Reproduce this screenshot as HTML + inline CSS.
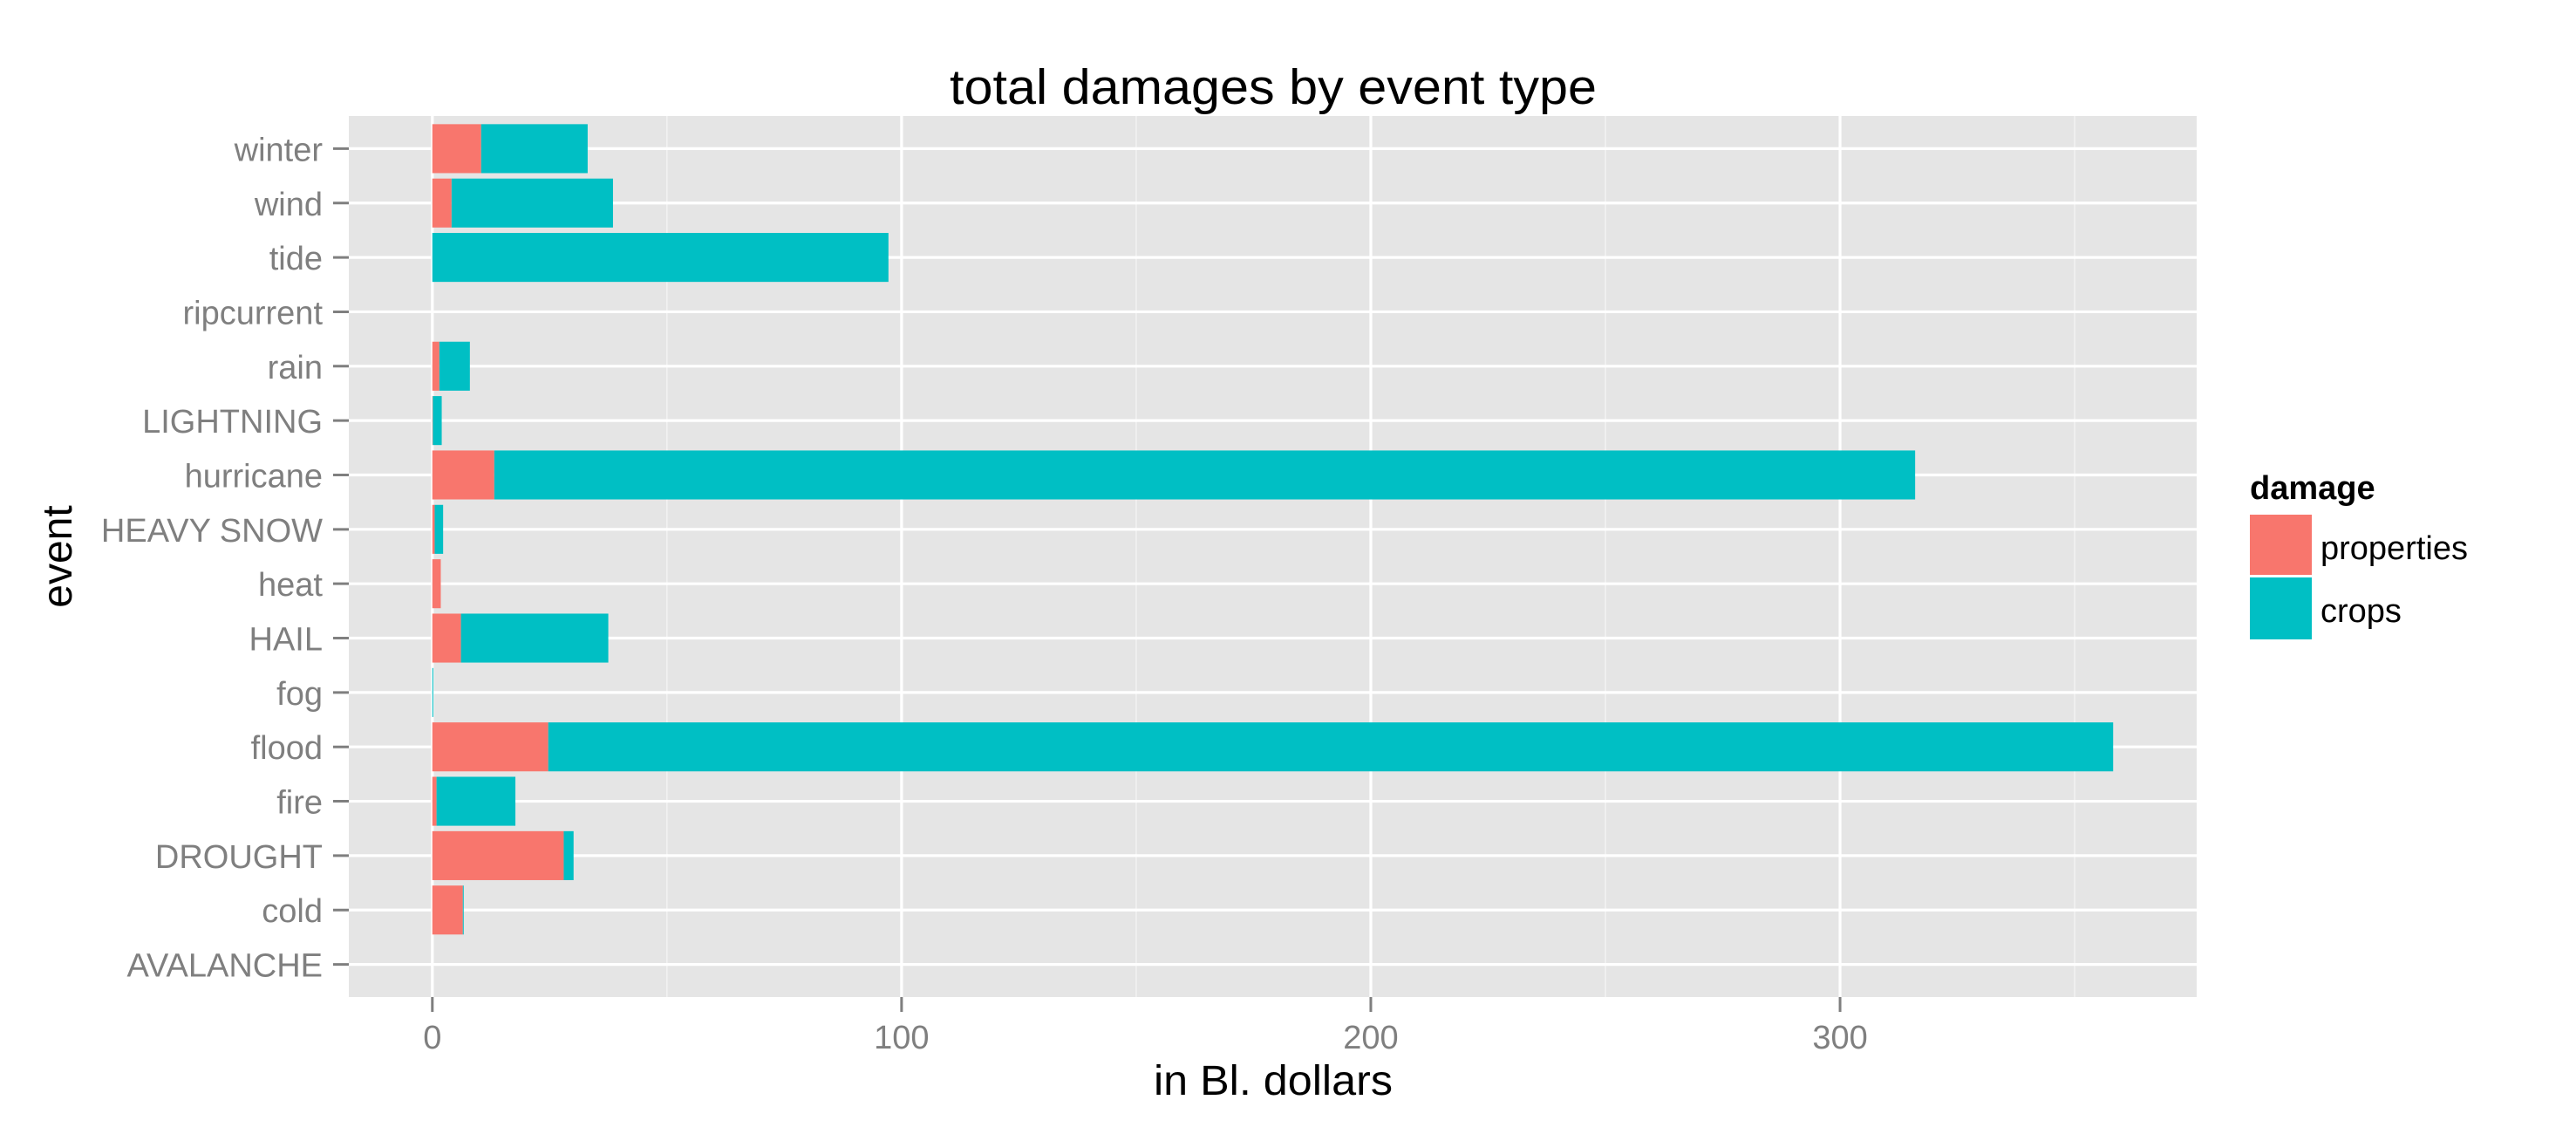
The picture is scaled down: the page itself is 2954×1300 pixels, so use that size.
<!DOCTYPE html>
<html><head><meta charset="utf-8"><style>
html,body{margin:0;padding:0;background:#fff}
svg{display:block}
text{font-family:"Liberation Sans",Arial,sans-serif}
</style></head><body>
<svg id="chart" width="2954" height="1300" viewBox="0 0 2954 1300" xmlns="http://www.w3.org/2000/svg">
<rect x="0" y="0" width="2954" height="1300" fill="#fff"/>
<text x="1460" y="119" font-size="57" text-anchor="middle" textLength="742" lengthAdjust="spacingAndGlyphs">total damages by event type</text>
<g id="plot"></g>
<text x="1460" y="1255" font-size="48" text-anchor="middle" textLength="274" lengthAdjust="spacingAndGlyphs">in Bl. dollars</text>
<text x="0" y="0" font-size="48" text-anchor="middle" transform="translate(82,638) rotate(-90)">event</text>
<g>
<text x="2580" y="572" font-size="38" font-weight="bold">damage</text>
<rect x="2580" y="590" width="71" height="69" fill="#F8766D"/>
<text x="2661" y="641" font-size="38">properties</text>
<rect x="2580" y="662" width="71" height="71" fill="#00BFC4"/>
<text x="2661" y="713" font-size="38">crops</text>
</g>
</svg>
<script>
const categories = ["AVALANCHE","cold","DROUGHT","fire","flood","fog","HAIL","heat","HEAVY SNOW","hurricane","LIGHTNING","rain","ripcurrent","tide","wind","winter"];
const properties = [0, 6.5, 28.0, 0.9, 24.7, 0, 6.1, 1.8, 0.5, 13.2, 0.1, 1.5, 0, 0, 4.1, 10.4];
const crops = [0, 0.1, 2.1, 16.8, 333.5, 0.2, 31.4, 0, 1.8, 302.8, 1.9, 6.5, 0, 97.2, 34.4, 22.7];
const xTicks = [0, 100, 200, 300];
const xMinor = [50, 150, 250, 350];

const NS = "http://www.w3.org/2000/svg";
const PL = 400, PR = 2519, PT = 133, PB = 1143;
const xMin = -17.8, xMax = 376;
const x = v => PL + (v - xMin) / (xMax - xMin) * (PR - PL);
const step = (PB - PT) / (categories.length - 1 + 1.2);
const y = i => PB - step * (i + 0.6);
const g = document.getElementById('plot');
function mk(tag, attrs, parent) {
  const e = document.createElementNS(NS, tag);
  for (const k in attrs) e.setAttribute(k, attrs[k]);
  (parent || g).appendChild(e);
  return e;
}
let e = mk('rect', {x: PL, y: PT, width: PR - PL, height: PB - PT, fill: '#E5E5E5'});


xMinor.forEach(v => {
  const l = mk('line', {x1: x(v), x2: x(v), y1: PT, y2: PB, stroke: '#F2F2F2', 'stroke-width': 1.6});
  
  
});
xTicks.forEach(v => {
  const l = mk('line', {x1: x(v), x2: x(v), y1: PT, y2: PB, stroke: '#fff', 'stroke-width': 3.2});
  
  
  const t = mk('line', {x1: x(v), x2: x(v), y1: PB, y2: PB + 17, stroke: '#7f7f7f', 'stroke-width': 3});
  
  
  const tx = mk('text', {x: x(v), y: 1202, 'font-size': 38, fill: '#7f7f7f', 'text-anchor': 'middle'});
  tx.textContent = v;
  
  
});
categories.forEach((c, i) => {
  const l = mk('line', {x1: PL, x2: PR, y1: y(i), y2: y(i), stroke: '#fff', 'stroke-width': 3.2});
  
  
  const t = mk('line', {x1: PL - 18, x2: PL, y1: y(i), y2: y(i), stroke: '#7f7f7f', 'stroke-width': 3});
  
  
  const tx = mk('text', {x: 370, y: y(i) + 14, 'font-size': 38, fill: '#7f7f7f', 'text-anchor': 'end'});
  tx.textContent = c;
  
  
});
const bh = step * 0.9;
categories.forEach((c, i) => {
  const p = properties[i], cr = crops[i];
  if (p > 0) {
    const b = mk('rect', {x: x(0), y: y(i) - bh / 2, width: x(p) - x(0), height: bh, fill: '#F8766D'});
    
    
  }
  if (cr > 0) {
    const b = mk('rect', {x: x(p), y: y(i) - bh / 2, width: Math.max(x(p + cr) - x(p), 1), height: bh, fill: '#00BFC4'});
    
    
  }
});
</script>
</body></html>
